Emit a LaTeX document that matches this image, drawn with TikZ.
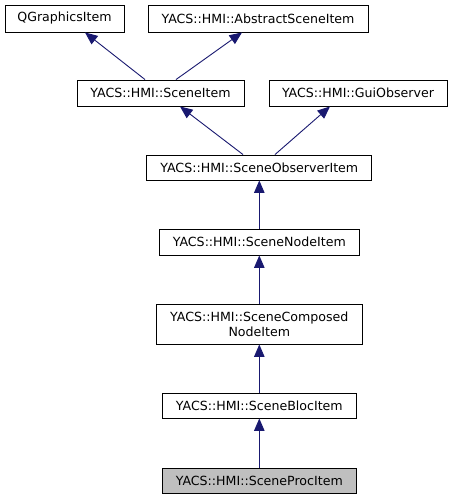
\documentclass[tikz,border=0pt]{standalone}
\usepackage{fontspec}
\setmainfont{DejaVu Sans}
\usetikzlibrary{arrows.meta}
\definecolor{edgecol}{HTML}{191970}
\definecolor{curfill}{HTML}{BFBFBF}
\tikzset{
  cls/.style={draw=black, line width=0.9bp, fill=white, inner sep=0pt, align=center,
    font=\fontsize{12.6bp}{15bp}\selectfont},
  cur/.style={cls, fill=curfill},
  inh/.style={draw=edgecol, line width=0.9bp, -{Triangle[length=12.5bp,width=10.5bp]}},
}
\begin{document}
\begin{tikzpicture}[x=1bp,y=-1bp]
\useasboundingbox (0,0) rectangle (453,500);
\node[cls, minimum width=119bp, minimum height=27bp] (q) at (64.5,18.5) {QGraphicsItem};
\node[cls, minimum width=220bp, minimum height=27bp] (abs) at (258,18.5) {YACS::HMI::AbstractSceneItem};
\node[cls, minimum width=167bp, minimum height=26bp] (si) at (160.5,93) {YACS::HMI::SceneItem};
\node[cls, minimum width=178bp, minimum height=26bp] (gui) at (358,93) {YACS::HMI::GuiObserver};
\node[cls, minimum width=225bp, minimum height=25bp] (soi) at (259.3,167.5) {YACS::HMI::SceneObserverItem};
\node[cls, minimum width=200bp, minimum height=26bp] (sni) at (259.3,242) {YACS::HMI::SceneNodeItem};
\node[cls, minimum width=206bp, minimum height=40bp] (scni) at (259.3,324) {YACS::HMI::SceneComposed\\NodeItem};
\node[cls, minimum width=194bp, minimum height=25bp] (sbi) at (259.3,405.5) {YACS::HMI::SceneBlocItem};
\node[cur, minimum width=194bp, minimum height=25bp] (spi) at (259.3,480.5) {YACS::HMI::SceneProcItem};
\draw[inh] ([xshift=-15.5bp]si.north) -- ([xshift=20.5bp]q.south);
\draw[inh] ([xshift=15.5bp]si.north) -- ([xshift=-16bp]abs.south);
\draw[inh] ([xshift=-16.3bp]soi.north) -- ([xshift=19.5bp]si.south);
\draw[inh] ([xshift=15.7bp]soi.north) -- ([xshift=-28bp]gui.south);
\draw[inh] (sni.north) -- (soi.south);
\draw[inh] (scni.north) -- (sni.south);
\draw[inh] (sbi.north) -- (scni.south);
\draw[inh] (spi.north) -- (sbi.south);
\end{tikzpicture}
\end{document}
